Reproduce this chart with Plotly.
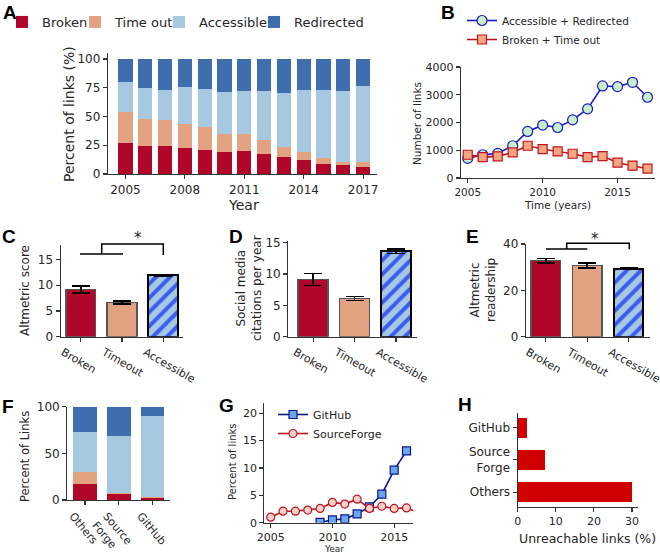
import plotly.graph_objects as go

W, H = 660, 555

# ---------------- data ----------------
years_a = list(range(2005, 2018))
broken_a = [27.2, 24.3, 24.6, 22.9, 21.2, 19.1, 20.3, 17.7, 15.1, 12.2, 8.9, 7.5, 6.3]
timeout_a = [26.7, 23.5, 22.1, 20.9, 19.7, 16.0, 14.2, 11.6, 8.1, 6.6, 5.3, 3.3, 3.9]
accessible_a = [25.8, 26.7, 26.3, 31.9, 33.0, 36.2, 38.0, 42.9, 47.5, 54.0, 58.8, 61.7, 66.3]
redirected_a = [20.3, 25.5, 27.0, 24.3, 26.1, 28.7, 27.5, 27.8, 29.3, 27.2, 27.0, 27.5, 23.5]

years_b = list(range(2005, 2018))
acc_redir_b = [707, 838, 886, 1162, 1677, 1904, 1820, 2096, 2491, 3317, 3293, 3449, 2910]
broken_to_b = [838, 754, 778, 922, 1162, 1042, 958, 874, 754, 790, 551, 443, 335]

groups_cde = ["Broken", "Timeout", "Accessible"]
altmetric_score = [9.15, 6.65, 11.9]
altmetric_score_err = [0.65, 0.3, 0.2]
social_media = [9.1, 6.1, 13.6]
social_media_err = [0.95, 0.3, 0.35]
readership = [32.8, 30.8, 29.4]
readership_err = [1.0, 1.1, 0.3]

hosts_f = ["Others", "Source<br>Forge", "GitHub"]
broken_f = [17.0, 6.8, 2.5]
timeout_f = [13.0, 0.7, 0.8]
accessible_f = [43.0, 60.7, 86.3]
redirected_f = [27.0, 31.8, 10.4]

years_gh = [2009, 2010, 2011, 2012, 2013, 2014, 2015, 2016]
github_pct = [0.06, 0.5, 0.7, 1.6, 2.9, 5.2, 9.6, 13.1]
years_sf = list(range(2005, 2018))
sourceforge_pct = [1.0, 2.1, 2.1, 2.3, 2.6, 3.7, 3.4, 4.3, 2.6, 3.0, 2.6, 2.7, 1.8]

hosts_h = ["Others", "Source<br>Forge", "GitHub"]
unreachable_h = [29.9, 7.1, 2.5]

# ---------------- styles ----------------
C_BROKEN = "#b0062a"
C_TIMEOUT = "#e3a382"
C_ACCESS = "#a6c8e1"
C_REDIR = "#3f6eae"
C_STRIPE = "#3a5cf2"
TXT = "#262626"
AX = "#333333"
FONT = "DejaVu Sans"


def px_x(a, b):
    return [a / W, b / W]


def px_y(top, bottom):
    return [1 - bottom / H, 1 - top / H]


def PX(x):
    return x / W


def PY(y):
    return 1 - y / H


fig = go.Figure()

# ---- A ----
for name, vals, col, lg in [("Broken", broken_a, C_BROKEN, "legend"),
                            ("Time out", timeout_a, C_TIMEOUT, "legend2"),
                            ("Accessible", accessible_a, C_ACCESS, "legend3"),
                            ("Redirected", redirected_a, C_REDIR, "legend4")]:
    fig.add_trace(go.Bar(x=years_a, y=vals, name=name, marker=dict(color=col, line=dict(width=0)),
                         width=0.72, xaxis="x", yaxis="y", legend=lg))

# ---- B ----
fig.add_trace(go.Scatter(x=years_b, y=acc_redir_b, name="Accessible + Redirected", mode="lines+markers",
                         line=dict(color="#1a1ac8", width=1.6),
                         marker=dict(symbol="circle", size=10, color="#c8f0c8", line=dict(color="#1a1ac8", width=1.2)),
                         xaxis="x2", yaxis="y2", legend="legend5"))
fig.add_trace(go.Scatter(x=years_b, y=broken_to_b, name="Broken + Time out", mode="lines+markers",
                         line=dict(color="#c0141e", width=1.6),
                         marker=dict(symbol="square", size=9, color="#f4a582", line=dict(color="#c0141e", width=1.2)),
                         xaxis="x2", yaxis="y2", legend="legend5"))

# ---- C, D, E (one trace per bar so the hatch colour is honoured) ----
bar_cols = [C_BROKEN, C_TIMEOUT, C_ACCESS]
edge_cols = ["#555555", "#555555", "#000000"]
edge_w = [1.5, 1.5, 2]
hatch = ["", "", "/"]
for vals, errs, xa, ya in [(altmetric_score, altmetric_score_err, "x3", "y3"),
                           (social_media, social_media_err, "x4", "y4"),
                           (readership, readership_err, "x5", "y5")]:
    for i in range(3):
        mk = dict(color=bar_cols[i], line=dict(color=edge_cols[i], width=edge_w[i]))
        if hatch[i]:
            mk["pattern"] = dict(shape=hatch[i], fillmode="overlay", fgcolor=C_STRIPE, fgopacity=1,
                                 size=10, solidity=0.4)
        fig.add_trace(go.Bar(x=[i], y=[vals[i]], width=0.72, showlegend=False, marker=mk,
                             error_y=dict(type="data", array=[errs[i]], visible=True, color="black",
                                          thickness=1.6, width=9),
                             xaxis=xa, yaxis=ya))

# ---- F ----
for vals, col in [(broken_f, C_BROKEN), (timeout_f, C_TIMEOUT), (accessible_f, C_ACCESS), (redirected_f, C_REDIR)]:
    fig.add_trace(go.Bar(x=[0, 1, 2], y=vals, width=0.69, showlegend=False,
                         marker=dict(color=col, line=dict(width=0)), xaxis="x6", yaxis="y6"))

# ---- G ----
fig.add_trace(go.Scatter(x=years_gh, y=github_pct, name="GitHub", mode="lines+markers",
                         line=dict(color="#0c1a88", width=1.6),
                         marker=dict(symbol="square", size=8, color="#6aa6ee", line=dict(color="#0c1a88", width=1.2)),
                         xaxis="x7", yaxis="y7", legend="legend6"))
fig.add_trace(go.Scatter(x=years_sf, y=sourceforge_pct, name="SourceForge", mode="lines+markers",
                         line=dict(color="#c0141e", width=1.6),
                         marker=dict(symbol="circle", size=8, color="#f9d2ca", line=dict(color="#c0141e", width=1.2)),
                         xaxis="x7", yaxis="y7", legend="legend6"))

# ---- H ----
fig.add_trace(go.Bar(x=unreachable_h, y=[0, 1, 2], orientation="h", width=0.62, showlegend=False,
                     marker=dict(color="#d10000", line=dict(width=0)), xaxis="x8", yaxis="y8"))


def axis_style(**kw):
    d = dict(showgrid=False, zeroline=False, showline=True, linecolor=AX, linewidth=1.2,
             ticks="outside", ticklen=4, tickwidth=1.2, tickcolor=AX, ticklabeloverflow="allow",
             tickfont=dict(family=FONT, size=12, color=TXT), fixedrange=True)
    d.update(kw)
    return d


lay = dict(
    width=W, height=H, margin=dict(l=0, r=0, t=0, b=0, autoexpand=False),
    paper_bgcolor="white", plot_bgcolor="white",
    barmode="stack", font=dict(family=FONT, color=TXT),
    # A
    xaxis=axis_style(domain=px_x(108, 377), range=[2004.12, 2017.7], tickvals=[2005, 2008, 2011, 2014, 2017],
                     anchor="y"),
    yaxis=axis_style(domain=px_y(53.3, 174), range=[0, 105], tickvals=[0, 25, 50, 75, 100], anchor="x"),
    # B
    xaxis2=axis_style(domain=px_x(461, 655), range=[2004.55, 2017.5], tickvals=[2005, 2010, 2015], anchor="y2",
                      tickfont=dict(family=FONT, size=10.5, color=TXT)),
    yaxis2=axis_style(domain=px_y(67, 178), range=[0, 4000], tickvals=[0, 1000, 2000, 3000, 4000], anchor="x2",
                      tickfont=dict(family=FONT, size=11, color=TXT)),
    # C
    xaxis3=axis_style(domain=px_x(60.7, 183), range=[-0.49, 2.48], tickvals=[0, 1, 2], ticktext=groups_cde,
                      tickangle=30, ticklabelshift=-18, anchor="y3", tickfont=dict(family=FONT, size=11, color=TXT)),
    yaxis3=axis_style(domain=px_y(245, 336.7), range=[0, 17.8], tickvals=[0, 5, 10, 15], anchor="x3"),
    # D
    xaxis4=axis_style(domain=px_x(288.3, 416.7), range=[-0.6, 2.5], tickvals=[0, 1, 2], ticktext=groups_cde,
                      tickangle=30, ticklabelshift=-18, anchor="y4", tickfont=dict(family=FONT, size=11, color=TXT)),
    yaxis4=axis_style(domain=px_y(241, 336.7), range=[0, 15.25], tickvals=[0, 5, 10, 15], anchor="x4"),
    # E
    xaxis5=axis_style(domain=px_x(526, 650), range=[-0.48, 2.52], tickvals=[0, 1, 2], ticktext=groups_cde,
                      tickangle=30, ticklabelshift=-18, anchor="y5", tickfont=dict(family=FONT, size=11, color=TXT)),
    yaxis5=axis_style(domain=px_y(244, 336.7), range=[0, 40], tickvals=[0, 20, 40], anchor="x5"),
    # F
    xaxis6=axis_style(domain=px_x(67.3, 170), range=[-0.52, 2.51], tickvals=[0, 1, 2], ticktext=hosts_f,
                      tickangle=50, ticklabelshift=-12, anchor="y6", tickfont=dict(family=FONT, size=11, color=TXT)),
    yaxis6=axis_style(domain=px_y(406.7, 500), range=[0, 100], tickvals=[0, 50, 100], anchor="x6"),
    # G
    xaxis7=axis_style(domain=px_x(264.3, 413.3), range=[2004.48, 2016.55], tickvals=[2005, 2010, 2015],
                      anchor="y7", tickfont=dict(family=FONT, size=11, color=TXT)),
    yaxis7=axis_style(domain=px_y(402.7, 522.7), range=[0, 21.9], tickvals=[0, 5, 10, 15, 20], anchor="x7",
                      tickfont=dict(family=FONT, size=11, color=TXT)),
    # H
    xaxis8=axis_style(domain=px_x(517.7, 637.7), range=[0, 31.5], tickvals=[0, 10, 20, 30], anchor="y8",
                      tickfont=dict(family=FONT, size=11, color=TXT)),
    yaxis8=axis_style(domain=px_y(412.7, 506.7), range=[-0.45, 2.46], tickvals=[0, 1, 2], ticktext=hosts_h,
                      anchor="x8"),
)

leg_common = dict(bgcolor="rgba(0,0,0,0)", borderwidth=0, xanchor="left", yanchor="middle",
                  font=dict(family=FONT, size=13, color=TXT), itemclick=False, itemdoubleclick=False)
lay["legend"] = dict(leg_common, x=PX(12), y=PY(22), indentation=-10)
lay["legend2"] = dict(leg_common, x=PX(85), y=PY(22), indentation=-10)
lay["legend3"] = dict(leg_common, x=PX(169), y=PY(22), indentation=-10)
lay["legend4"] = dict(leg_common, x=PX(264), y=PY(22), indentation=-10)
lay["legend5"] = dict(leg_common, x=PX(462), y=PY(30), font=dict(family=FONT, size=10.5, color=TXT))
lay["legend6"] = dict(leg_common, x=PX(273), y=PY(424), font=dict(family=FONT, size=11, color=TXT))

fig.update_layout(**lay)

ann = []


def label(t, x, y, size=19):
    ann.append(dict(text="<b>%s</b>" % t, x=PX(x), y=PY(y), xref="paper", yref="paper", showarrow=False,
                    font=dict(family="Liberation Sans", size=size, color="black"), xanchor="center",
                    yanchor="middle"))


def text(t, x, y, size=12, angle=0):
    ann.append(dict(text=t, x=PX(x), y=PY(y), xref="paper", yref="paper", showarrow=False,
                    font=dict(family=FONT, size=size, color=TXT), xanchor="center", yanchor="middle",
                    textangle=angle))


label("A", 10, 12)
label("B", 448, 12)
label("C", 9, 236)
label("D", 236, 236)
label("E", 472, 236)
label("F", 8, 406)
label("G", 226, 405)
label("H", 465, 404)

text("Percent of links (%)", 69, 114, 14, -90)
text("Year", 243, 205, 14)
text("Number of links", 417, 124, 10.5, -90)
text("Time (years)", 557, 205, 10.5)
text("Altmetric score", 25, 291, 12, -90)
text("Social media<br>citations per year", 249, 288, 12, -90)
text("Altmetric<br>readership", 483, 290, 12, -90)
text("Percent of Links", 25, 457, 11.5, -90)
text("Percent of links", 232, 462, 10, -90)
text("Year", 334, 549, 9)
text("Unreachable links (%)", 587, 538, 12.5)
text("*", 138, 238, 15)
text("*", 595, 239, 15)

fig.update_layout(annotations=ann)


def bracket(pts):
    path = "M" + " L".join("%f,%f" % (PX(x), PY(y)) for x, y in pts)
    return dict(type="path", path=path, xref="paper", yref="paper", line=dict(color="black", width=1.5))


shapes = [
    bracket([(80, 254), (123, 254)]),
    bracket([(101.7, 254), (101.7, 244), (163.3, 244), (163.3, 255)]),
    bracket([(546, 249), (587.3, 249)]),
    bracket([(566.7, 249), (566.7, 243.3), (629.3, 243.3), (629.3, 249.3)]),
]
fig.update_layout(shapes=shapes)

fig.write_html("out.html", config={"displayModeBar": False, "staticPlot": True},
               post_script="document.body.style.margin='0px';")
